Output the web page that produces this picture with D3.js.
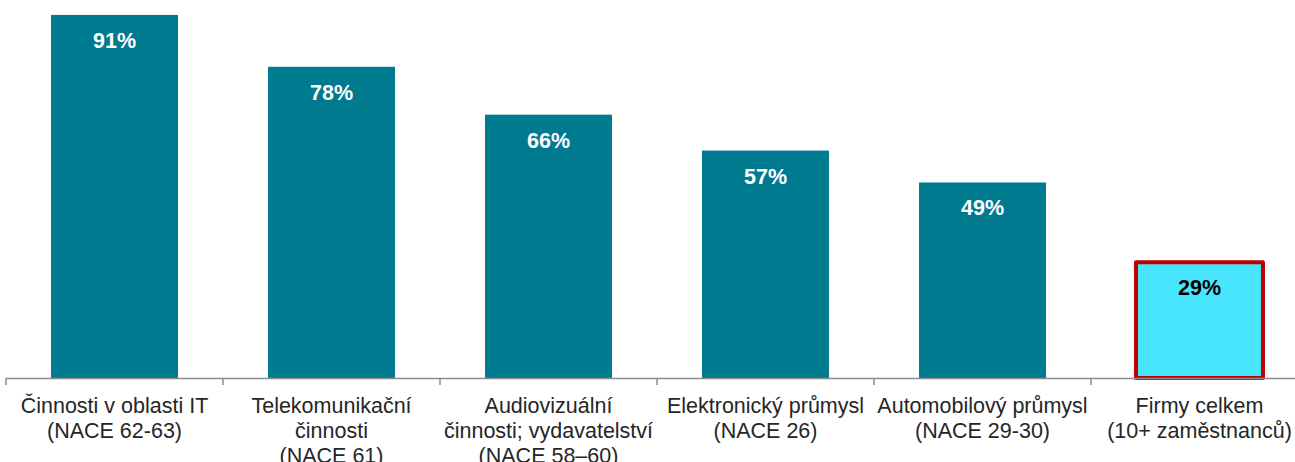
<!DOCTYPE html>
<html><head><meta charset="utf-8">
<script src="https://cdn.jsdelivr.net/npm/d3@7"></script>
<style>body{margin:0;background:#fff}svg{display:block}</style>
</head><body><svg id="c" width="1295" height="462"></svg>
<script>
const categories = [
  ["Činnosti v oblasti IT", "(NACE 62-63)"],
  ["Telekomunikační", "činnosti", "(NACE 61)"],
  ["Audiovizuální", "činnosti; vydavatelství", "(NACE 58–60)"],
  ["Elektronický průmysl", "(NACE 26)"],
  ["Automobilový průmysl", "(NACE 29-30)"],
  ["Firmy celkem", "(10+ zaměstnanců)"]
];
const values = [91, 78, 66, 57, 49, 29];
const highlight = [false, false, false, false, false, true];

const svg = d3.select("#c");
const x = d3.scaleBand().domain(d3.range(categories.length)).range([6, 1308]).paddingInner(0.415).paddingOuter(0.2075);
const y = d3.scaleLinear().domain([0, 100]).range([378, -21]);

svg.selectAll("rect.bar").data(values).join("rect")
  .attr("class","bar")
  .attr("x", (d,i)=>x(i))
  .attr("width", x.bandwidth())
  .attr("y", d=>y(d))
  .attr("height", d=>y(0)-y(d))
  .attr("fill", (d,i)=>highlight[i] ? "#48E5FF" : "#007A8F")
  .attr("stroke", (d,i)=>highlight[i] ? "#C00000" : "none")
  .attr("stroke-width", 4)
  .attr("stroke-linejoin","round");

svg.selectAll("text.val").data(values).join("text")
  .attr("class","val")
  .attr("x", (d,i)=>x(i)+x.bandwidth()/2)
  .attr("y", d=>y(d)+33)
  .attr("text-anchor","middle")
  .attr("font-family","Liberation Sans, Arial, sans-serif")
  .attr("font-weight","bold")
  .attr("font-size", 21.5)
  .attr("fill", (d,i)=>highlight[i] ? "#000" : "#fff")
  .text(d=>d+"%");

// axis
const step = x.step();
svg.append("line").attr("x1",6).attr("x2",1295).attr("y1",378.5).attr("y2",378.5).attr("stroke","#8c8c8c").attr("stroke-width",1.5);
svg.selectAll("line.tick").data(d3.range(categories.length)).join("line")
  .attr("class","tick")
  .attr("x1", i=>x(i)-x.paddingInner()*step/2).attr("x2", i=>x(i)-x.paddingInner()*step/2)
  .attr("y1",378).attr("y2",385).attr("stroke","#8c8c8c").attr("stroke-width",1.5);

const g = svg.selectAll("text.cat").data(categories).join("text")
  .attr("class","cat")
  .attr("text-anchor","middle")
  .attr("font-family","Liberation Sans, Arial, sans-serif")
  .attr("font-size", 21.5)
  .attr("fill","#262626");
g.each(function(lines,i){
  d3.select(this).selectAll("tspan").data(lines).join("tspan")
    .attr("x", x(i)+x.bandwidth()/2)
    .attr("y", (d,j)=>413+j*25)
    .text(d=>d);
});
</script></body></html>
